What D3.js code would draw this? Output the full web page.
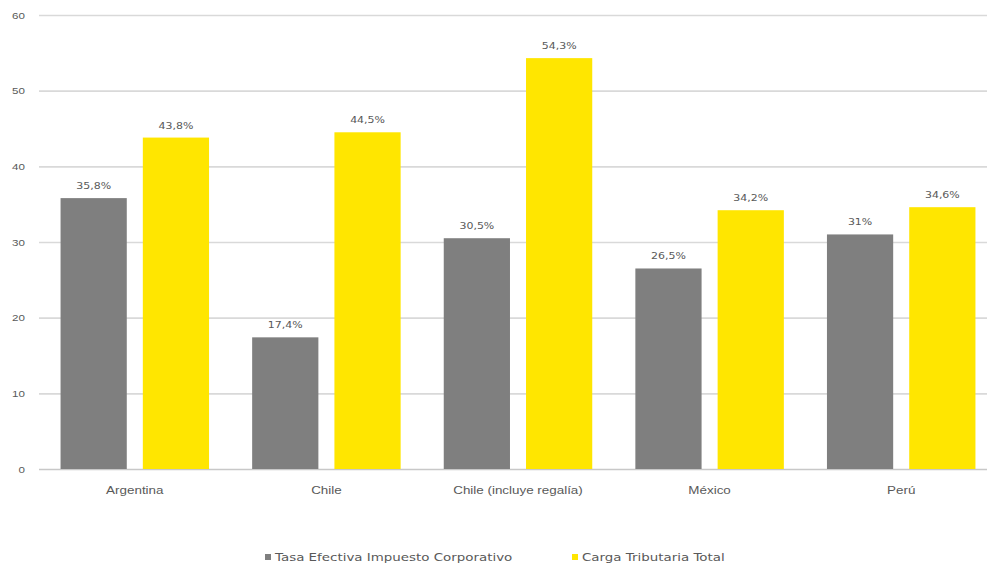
<!DOCTYPE html>
<html>
<head>
<meta charset="utf-8">
<script src="https://cdn.jsdelivr.net/npm/d3@7"></script>
<style>
  html, body { margin: 0; padding: 0; background: #fff; }
  svg { display: block; font-family: "DejaVu Sans", Verdana, sans-serif; }
</style>
</head>
<body>
<svg id="chart" width="987" height="567"></svg>
<script>
// Chart data
const categories = ["Argentina", "Chile", "Chile (incluye regalía)", "México", "Perú"];
const seriesNames = ["Tasa Efectiva Impuesto Corporativo", "Carga Tributaria Total"];
const tasaEfectiva = [35.8, 17.4, 30.5, 26.5, 31];
const cargaTotal = [43.8, 44.5, 54.3, 34.2, 34.6];
const tasaLabels = ["35,8%", "17,4%", "30,5%", "26,5%", "31%"];
const cargaLabels = ["43,8%", "44,5%", "54,3%", "34,2%", "34,6%"];
const yTicks = [0, 10, 20, 30, 40, 50, 60];
const colors = ["#7f7f7f", "#ffe600"];

// Text is drawn slightly widened horizontally
const SX = 1.22;
const textColor = "#595959";

const svg = d3.select("#chart");
const width = 987, height = 567;
const plotLeft = 39, plotRight = 997, plotTop = 15, plotBottom = 469;

const x0 = d3.scaleBand()
  .domain(categories)
  .range([plotLeft, plotRight]);

const x1 = d3.scaleBand()
  .domain(seriesNames)
  .range([0, x0.bandwidth()])
  .paddingInner(0.195)
  .paddingOuter(0.262);

const y = d3.scaleLinear()
  .domain([0, 60])
  .range([plotBottom, plotTop]);

// Gridlines and y tick labels
const yAxis = d3.axisLeft(y)
  .tickValues(yTicks)
  .tickSize(-(width - plotLeft))
  .tickPadding(0)
  .tickFormat(d3.format("d"));

const gy = svg.append("g")
  .attr("transform", `translate(${plotLeft},0)`)
  .call(yAxis);
gy.select(".domain").remove();
gy.selectAll(".tick line")
  .attr("stroke", d => d === 0 ? "#c8c8c8" : "#d9d9d9")
  .attr("stroke-width", 1.6);
gy.selectAll(".tick text")
  .attr("x", null)
  .attr("transform", `translate(-14,0) scale(${SX},1)`)
  .attr("fill", textColor)
  .style("font-size", "9.5px");

// Bars
const rows = categories.map((c, i) => ({
  category: c,
  values: [
    { series: seriesNames[0], value: tasaEfectiva[i], label: tasaLabels[i] },
    { series: seriesNames[1], value: cargaTotal[i], label: cargaLabels[i] }
  ]
}));

const groups = svg.append("g")
  .selectAll("g")
  .data(rows)
  .join("g")
  .attr("transform", d => `translate(${x0(d.category)},0)`);

groups.selectAll("rect")
  .data(d => d.values)
  .join("rect")
  .attr("x", d => x1(d.series))
  .attr("y", d => y(d.value))
  .attr("width", x1.bandwidth())
  .attr("height", d => y(0) - y(d.value))
  .attr("fill", (d, i) => colors[i]);

groups.selectAll("text.value")
  .data(d => d.values)
  .join("text")
  .attr("class", "value")
  .attr("transform", d =>
    `translate(${x1(d.series) + x1.bandwidth() / 2},${y(d.value) - 9}) scale(${SX},1)`)
  .attr("text-anchor", "middle")
  .attr("fill", textColor)
  .style("font-size", "9px")
  .text(d => d.label);

// Category axis labels
const gx = svg.append("g")
  .attr("transform", `translate(0,${y(0)})`)
  .call(d3.axisBottom(x0).tickSize(0).tickPadding(0));
gx.select(".domain").remove();
gx.selectAll(".tick text")
  .attr("y", null)
  .attr("dy", "0.35em")
  .attr("transform", `translate(0,21) scale(${SX},1)`)
  .attr("fill", textColor)
  .style("font-size", "11px");

// Legend
const legendItems = [
  { name: seriesNames[0], color: colors[0], x: 265 },
  { name: seriesNames[1], color: colors[1], x: 572 }
];
const legend = svg.append("g");
const li = legend.selectAll("g")
  .data(legendItems)
  .join("g")
  .attr("transform", d => `translate(${d.x},557)`);
li.append("rect")
  .attr("x", 0).attr("y", -3)
  .attr("width", 6).attr("height", 6)
  .attr("fill", d => d.color);
li.append("text")
  .attr("transform", `translate(10,0) scale(${SX},1)`)
  .attr("dy", "0.35em")
  .attr("fill", textColor)
  .style("font-size", "11px")
  .text(d => d.name);
</script>
</body>
</html>
